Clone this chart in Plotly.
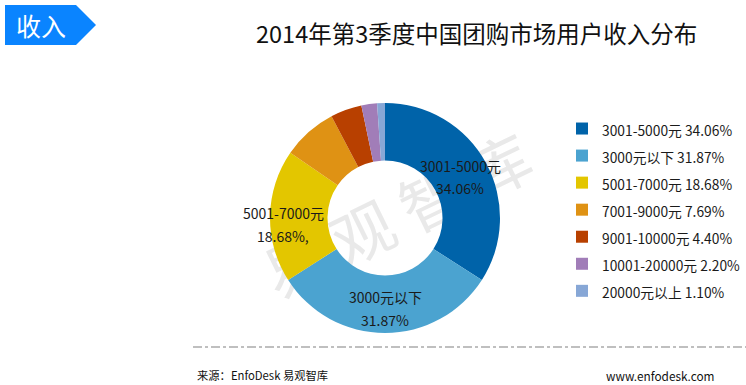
import plotly.graph_objects as go

categories = ["3001-5000元", "3000元以下", "5001-7000元", "7001-9000元",
              "9001-10000元", "10001-20000元", "20000元以上"]
values = [34.06, 31.87, 18.68, 7.69, 4.40, 2.20, 1.10]
colors = ["#0063A9", "#4BA3D0", "#E3C600", "#DF9214", "#B84000", "#A17DB8", "#87A7D6"]

W, H = 746, 385
FONT = "Noto Sans CJK SC"

def px(x):
    return x / W

def py(y):
    return 1 - y / H

legend_labels = [f"<span style='font-size:13.8px'>{c} {v:.2f}%</span>" for c, v in zip(categories, values)]

fig = go.Figure()
fig.add_trace(go.Pie(
    labels=legend_labels,
    values=values,
    marker=dict(colors=colors, line=dict(width=0)),
    hole=0.5,
    sort=False,
    direction="clockwise",
    rotation=0,
    textinfo="none",
    hoverinfo="skip",
    domain=dict(x=[px(270), px(500)], y=[py(333), py(103)]),
    showlegend=True,
))

annotations = []
# slice labels
slice_labels = [
    (categories[0], f"{values[0]:.2f}%", 460, 166, 188),
    (categories[1], f"{values[1]:.2f}%", 385, 297, 320),
    (categories[2], f"{values[2]:.2f}%,", 283, 213, 236),
]
for name, val, cx, y1, y2 in slice_labels:
    annotations.append(dict(x=px(cx), y=py(y1), xref="paper", yref="paper", text=name,
                            showarrow=False, font=dict(size=14, color="#1a1a1a", family=FONT),
                            xanchor="center", yanchor="middle"))
    annotations.append(dict(x=px(cx), y=py(y2), xref="paper", yref="paper", text=val,
                            showarrow=False, font=dict(size=14, color="#1a1a1a", family=FONT),
                            xanchor="center", yanchor="middle"))

# title
annotations.append(dict(x=px(476), y=py(33), xref="paper", yref="paper",
                        text="2014年第3季度中国团购市场用户收入分布", showarrow=False,
                        font=dict(size=23.5, color="#111111", family=FONT),
                        xanchor="center", yanchor="middle"))
# badge text
annotations.append(dict(x=px(41), y=py(25), xref="paper", yref="paper", text="收入",
                        showarrow=False, font=dict(size=25, color="white", family=FONT),
                        xanchor="center", yanchor="middle"))
# footer
annotations.append(dict(x=px(195), y=py(375), xref="paper", yref="paper",
                        text="来源：EnfoDesk 易观智库", showarrow=False,
                        font=dict(size=11.3, color="#111111", family=FONT),
                        xanchor="left", yanchor="middle"))
annotations.append(dict(x=px(717), y=py(375), xref="paper", yref="paper",
                        text="www.enfodesk.com", showarrow=False,
                        font=dict(size=11.8, color="#111111", family=FONT),
                        xanchor="right", yanchor="middle"))

shapes = [
    # watermark (behind the pie)
    dict(type="rect", xref="paper", yref="paper",
         x0=px(240), x1=px(560), y0=py(282), y1=py(162),
         line=dict(width=0), fillcolor="rgba(0,0,0,0)", layer="below",
         label=dict(text="易 观 智 库", textangle=-26, textposition="middle center",
                    font=dict(size=62, color="#E9E9E9", family=FONT))),
    dict(type="path", xref="paper", yref="paper",
         path=f"M {px(5)},{py(5)} L {px(76)},{py(5)} L {px(96)},{py(25)} L {px(76)},{py(45)} L {px(5)},{py(45)} Z",
         fillcolor="#0A84FF", line=dict(width=0), layer="below"),
    dict(type="line", xref="paper", yref="paper",
         x0=px(193), x1=px(746), y0=py(347), y1=py(347),
         line=dict(color="#808080", width=1.2, dash="dashdot")),
]

fig.update_layout(
    width=W, height=H,
    margin=dict(l=0, r=0, t=0, b=0, autoexpand=False),
    paper_bgcolor="white", plot_bgcolor="white",
    font=dict(family=FONT, color="#1a1a1a"),
    showlegend=True,
    legend=dict(x=px(562), y=py(110), xanchor="left", yanchor="top",
                font=dict(size=18.5, family=FONT, color="#1a1a1a"),
                bgcolor="rgba(0,0,0,0)", itemclick=False, itemdoubleclick=False),
    annotations=annotations,
    shapes=shapes,
)

fig.write_html("out.html", config={"displayModeBar": False},
               post_script="document.body.style.margin='0';document.body.style.overflow='hidden';")
